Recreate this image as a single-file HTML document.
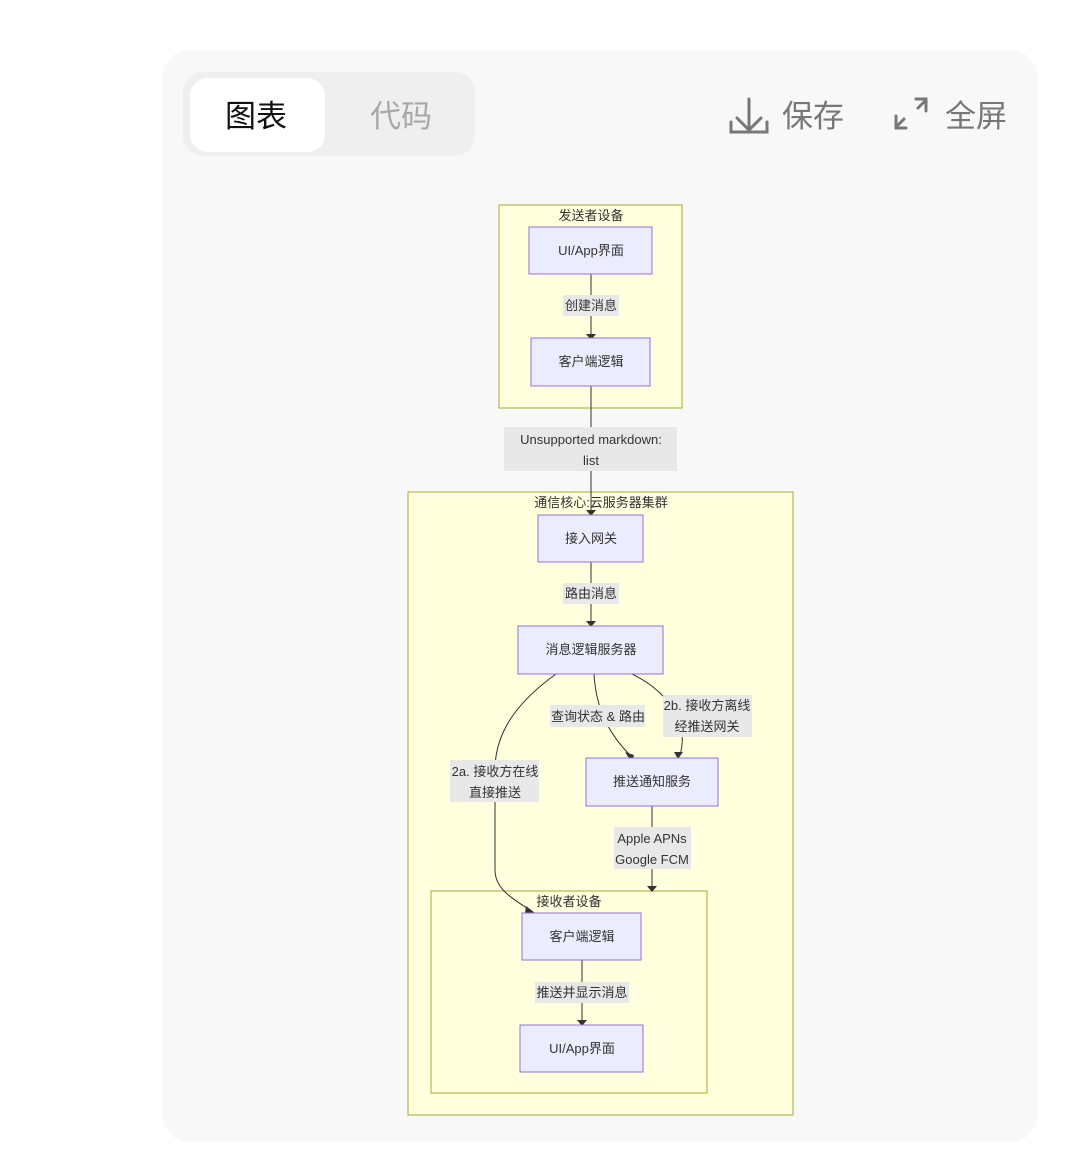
<!DOCTYPE html>
<html><head><meta charset="utf-8"><style>
body{margin:0;width:1080px;height:1168px;background:#fff;position:relative;overflow:hidden;font-family:"Liberation Sans","Noto Sans CJK SC",sans-serif}
.a{position:absolute}
.panel{left:163px;top:50px;width:874px;height:1092px;background:#f8f8f8;border-radius:26px}
.tabs{left:183px;top:72px;width:292px;height:84px;background:#efefef;border-radius:20px}
.tab1{left:190px;top:78px;width:135px;height:74px;background:#fff;border-radius:18px}
.big{font-size:31px;line-height:40px;color:#111}
</style></head><body>
<div class="a panel"></div>
<div class="a tabs"></div>
<div class="a tab1"></div>
<div class="a big" style="left:225px;top:97px">图表</div>
<div class="a big" style="left:370px;top:97px;color:#a8a8a8">代码</div>
<div class="a big" style="left:782px;top:97px;color:#777">保存</div>
<div class="a big" style="left:945px;top:97px;color:#777">全屏</div>
<svg class="a" style="left:0;top:0" width="1080" height="1168">
<g fill="none" stroke="#777" stroke-width="3" stroke-linecap="round">
<path d="M749 99v30M737 118l12 12 12-12M731 122v10h36v-10"/>
<path d="M916 99h10v12M926 100l-8 8M896 116v12h10M896 127l8-8"/>
</g>
<g font-size="13" fill="#333" text-anchor="middle" font-family="Liberation Sans,Noto Sans CJK SC,sans-serif">
<rect x="499" y="205" width="183" height="203" fill="#ffffde" stroke="#aaaa33"/>
<rect x="408" y="492" width="385" height="623" fill="#ffffde" stroke="#aaaa33"/>
<rect x="431" y="891" width="276" height="202" fill="#ffffde" stroke="#aaaa33"/>
<text x="591" y="220">发送者设备</text>
<text x="601" y="507">通信核心:云服务器集群</text>
<text x="569" y="906">接收者设备</text>
<g stroke="#333" stroke-width="1" fill="none">
<path d="M591 274V334M591 386V510M591 562V622M582 960V1021M652 806V887"/>
<path d="M556 674C520 700 495 730 495 770V870C495 890 515 900 530 910"/>
<path d="M594 674C596 710 610 735 630 755"/>
<path d="M632 674C665 690 690 720 680 755"/>
</g>
<g fill="#333">
<path d="M586 334h10l-5 6z"/><path d="M586 510h10l-5 6z"/><path d="M586 621h10l-5 6z"/>
<path d="M577 1020h10l-5 6z"/><path d="M647 886h10l-5 6z"/>
<path d="M625 752l9 3-2 8z"/><path d="M674 752l9 0-5 7z"/><path d="M526 906l9 7-10 0z"/>
</g>
<g fill="#ececff" stroke="#9370db">
<rect x="529" y="227" width="123" height="47"/>
<rect x="531" y="338" width="119" height="48"/>
<rect x="538" y="515" width="105" height="47"/>
<rect x="518" y="626" width="145" height="48"/>
<rect x="586" y="758" width="132" height="48"/>
<rect x="522" y="913" width="119" height="47"/>
<rect x="520" y="1025" width="123" height="47"/>
</g>
<g fill="#e8e8e8">
<rect x="563" y="295" width="56" height="21"/>
<rect x="504" y="427" width="173" height="44"/>
<rect x="563" y="583" width="56" height="21"/>
<rect x="550" y="705" width="95" height="22"/>
<rect x="663" y="695" width="89" height="42"/>
<rect x="450" y="760" width="89" height="42"/>
<rect x="614" y="827" width="77" height="42"/>
<rect x="535" y="982" width="94" height="21"/>
</g>
<text x="591" y="255">UI/App界面</text>
<text x="591" y="366">客户端逻辑</text>
<text x="591" y="543">接入网关</text>
<text x="591" y="654">消息逻辑服务器</text>
<text x="652" y="786">推送通知服务</text>
<text x="582" y="941">客户端逻辑</text>
<text x="582" y="1053">UI/App界面</text>
<text x="591" y="310">创建消息</text>
<text x="591" y="444">Unsupported markdown:</text>
<text x="591" y="465">list</text>
<text x="591" y="598">路由消息</text>
<text x="598" y="721">查询状态 &amp; 路由</text>
<text x="707" y="710">2b. 接收方离线</text>
<text x="707" y="731">经推送网关</text>
<text x="495" y="776">2a. 接收方在线</text>
<text x="495" y="797">直接推送</text>
<text x="652" y="843">Apple APNs</text>
<text x="652" y="864">Google FCM</text>
<text x="582" y="997">推送并显示消息</text>
</g>
</svg>
</body></html>
